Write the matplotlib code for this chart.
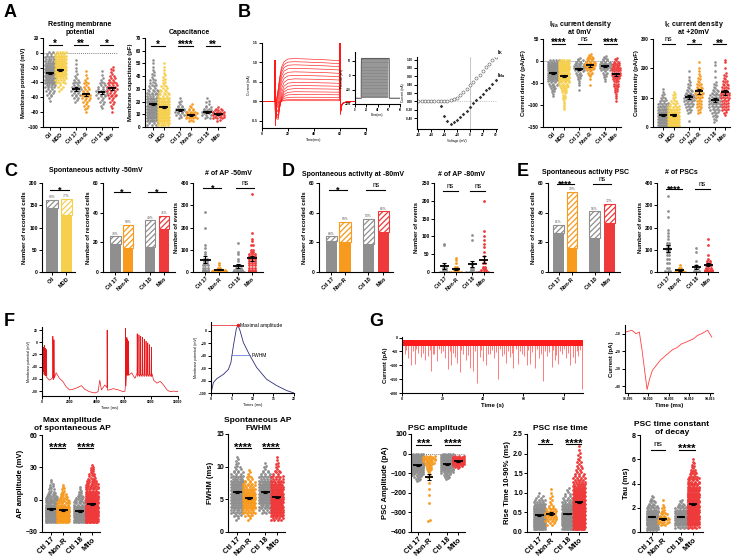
import numpy as np
import matplotlib
matplotlib.use("Agg")
import matplotlib.pyplot as plt

plt.rcParams['font.family'] = ['Liberation Sans', 'DejaVu Sans']
plt.rcParams['font.weight'] = 'bold'
plt.rcParams['axes.labelweight'] = 'bold'
plt.rcParams['mathtext.fontset'] = 'custom'
plt.rcParams['mathtext.rm'] = 'Liberation Sans:bold'
plt.rcParams['mathtext.it'] = 'Liberation Sans:bold'
plt.rcParams['mathtext.bf'] = 'Liberation Sans:bold'
plt.rcParams['hatch.linewidth'] = 0.9
plt.rcParams['axes.linewidth'] = 0.8

GRAY = '#8f8f8f'
YEL = '#f6cf4c'
ORA = '#f79a1e'
RED = '#ee3a3a'

# Data ---------------------------------------------------------------------------------------------
grp6 = ['Ctl', 'MDD', 'Ctl 17', 'Non-R', 'Ctl 18', 'Mito']
grp4 = ['Ctl 17', 'Non-R', 'Ctl 18', 'Mito']

# A: resting membrane potential (counts of cells per level)
rmp_lv = [0, -5, -10, -15, -20, -25, -30, -35, -40, -45, -50, -55, -60, -65, -70, -75, -80]
rmp_ctl = [4, 6, 9, 12, 16, 18, 17, 15, 12, 8, 5, 4, 2, 1, 0, 0, 0]
rmp_mdd = [8, 10, 12, 14, 16, 14, 12, 8, 5, 3, 2, 0, 0, 0, 0, 0, 0]
rmp_c17 = [0, 0, 1, 1, 1, 1, 2, 3, 4, 5, 6, 5, 3, 2, 0, 0, 0]
rmp_nonr = [0, 0, 0, 0, 0, 1, 1, 2, 3, 3, 4, 5, 5, 4, 3, 2, 1]
rmp_c18 = [0, 0, 0, 0, 0, 1, 1, 2, 3, 4, 6, 6, 4, 3, 2, 1, 0]
rmp_mito = [0, 0, 0, 0, 2, 2, 3, 4, 5, 6, 6, 5, 4, 3, 2, 1, 1]
rmp_mean = [-27, -23, -49, -56, -53, -48]
rmp_sem = [1.5, 1.5, 2.5, 2.5, 2, 2]

# A: capacitance
cap_lv = [2.5, 5, 7.5, 10, 12.5, 15, 17.5, 20, 22.5, 25, 27.5, 30, 32.5, 35, 37.5, 40, 42.5, 45, 47.5, 50, 52.5]
cap_ctl = [6, 10, 14, 16, 17, 16, 14, 12, 10, 8, 6, 5, 4, 3, 3, 2, 2, 1, 1, 1, 1]
cap_mdd = [10, 12, 14, 16, 16, 14, 12, 10, 8, 6, 5, 4, 3, 2, 2, 2, 1, 1, 1, 1, 0]
cap_c17 = [0, 0, 2, 5, 7, 5, 3, 2, 1, 0, 0, 0, 0, 0, 0, 0, 0, 0, 0, 0, 0]
cap_nonr = [0, 3, 7, 8, 5, 3, 2, 0, 0, 0, 0, 0, 0, 0, 0, 0, 0, 0, 0, 0, 0]
cap_c18 = [0, 0, 3, 6, 7, 4, 2, 2, 1, 0, 0, 0, 0, 0, 0, 0, 0, 0, 0, 0, 0]
cap_mito = [0, 2, 6, 9, 7, 3, 0, 0, 0, 0, 0, 0, 0, 0, 0, 0, 0, 0, 0, 0, 0]
cap_mean = [18, 16, 13, 9.5, 12, 10]
cap_sem = [0.8, 0.8, 0.8, 0.7, 0.7, 0.5]

# B: INa current density at 0 mV
ina_lv = [15, 10, 5, 0, -5, -10, -15, -20, -25, -30, -35, -40, -45, -50, -55, -60, -65, -70, -75, -80,
          -85, -90, -95, -100, -105, -110]
ina_ctl = [0, 0, 0, 8, 10, 12, 14, 15, 15, 13, 11, 9, 7, 5, 4, 3, 2, 2, 1, 1, 0, 0, 0, 0, 0, 0]
ina_mdd = [0, 0, 0, 10, 10, 11, 12, 12, 11, 10, 9, 8, 7, 6, 5, 4, 3, 3, 2, 2, 2, 1, 1, 1, 1, 1]
ina_c17 = [0, 0, 2, 4, 5, 6, 6, 5, 4, 3, 2, 2, 1, 1, 1, 0, 1, 0, 0, 0, 0, 0, 0, 0, 0, 0]
ina_nonr = [2, 3, 4, 5, 6, 6, 5, 4, 3, 2, 1, 1, 0, 0, 1, 0, 0, 0, 0, 0, 0, 0, 0, 0, 0, 0]
ina_c18 = [0, 2, 3, 5, 7, 8, 7, 5, 3, 2, 2, 1, 1, 0, 0, 0, 0, 0, 0, 0, 0, 0, 0, 0, 0, 0]
ina_mito = [0, 0, 2, 3, 4, 4, 5, 5, 5, 5, 4, 4, 3, 3, 3, 2, 2, 2, 1, 1, 1, 1, 0, 0, 0, 0]
ina_mean = [-27, -34, -18, -10, -12, -30]
ina_sem = [1.5, 2, 3, 3, 2, 3]

# B: IK current density at +20 mV
ik_lv = [0, 10, 20, 30, 40, 50, 60, 70, 80, 90, 100, 110, 120, 130, 140, 150, 160, 170, 180, 190,
         200, 210, 220, 230]
ik_ctl = [8, 12, 14, 15, 14, 12, 10, 8, 6, 4, 3, 2, 1, 1, 0, 0, 0, 0, 0, 0, 0, 0, 0, 0]
ik_mdd = [10, 13, 15, 15, 13, 10, 8, 6, 4, 3, 2, 2, 1, 0, 0, 0, 0, 0, 0, 0, 0, 0, 0, 0]
ik_c17 = [0, 0, 1, 0, 0, 2, 3, 4, 5, 6, 6, 5, 4, 3, 2, 2, 1, 1, 0, 1, 0, 0, 0, 0]
ik_nonr = [0, 0, 0, 0, 0, 2, 2, 3, 3, 3, 4, 4, 5, 4, 3, 3, 2, 2, 1, 1, 1, 0, 1, 0]
ik_c18 = [0, 0, 2, 2, 3, 4, 5, 6, 7, 7, 6, 5, 4, 3, 2, 2, 0, 1, 0, 1, 0, 1, 1, 0]
ik_mito = [0, 0, 0, 0, 1, 2, 4, 4, 4, 4, 5, 5, 5, 4, 4, 3, 3, 2, 2, 0, 1, 0, 1, 1]
ik_mean = [42, 40, 101, 122, 92, 118]
ik_sem = [3, 3, 7, 8, 6, 8]

# B: example voltage-clamp sweeps (time in ms)
b_t = [0, 9.8, 10.0, 10.3, 10.8, 11.5, 12.5, 13.5, 15, 17, 20, 25, 35, 50, 59.8, 60.0, 60.3, 61, 62, 64, 70, 80]
b_cap = [0, 0, 1.05, -0.62, -0.15, 0, 0, 0, 0, 0, 0, 0, 0, 0, 0, 1.6, -0.32, -0.12, -0.05, -0.02, 0, 0]
b_kshape = [0, 0, 0, 0, 0.03, 0.1, 0.3, 0.55, 0.8, 0.93, 0.99, 1.0, 0.99, 0.97, 0.95, 0, 0, 0, 0, 0, 0, 0]
b_nashape = [0, 0, 0, 0, 0.3, 0.85, 1.0, 0.7, 0.35, 0.12, 0.03, 0, 0, 0, 0, 0, 0, 0, 0, 0, 0, 0]
b_plateau = [1.10, 1.02, 0.94, 0.85, 0.76, 0.67, 0.58, 0.49, 0.41, 0.33, 0.25, 0.18, 0.11, 0.05, 0.02]
b_na = [0, 0, -0.03, -0.08, -0.15, -0.25, -0.38, -0.5, -0.58, -0.52, -0.42, -0.3, -0.18, -0.08, -0.02]
b_steps = [-70, -60, -50, -40, -30, -20, -10, 0, 10, 20, 30, 40, 50, 60]

# B: IV curve
iv_v = [-80, -75, -70, -65, -60, -55, -50, -45, -40, -35, -30, -25, -20, -15, -10, -5, 0, 5, 10, 15, 20,
        25, 30, 35, 40]
iv_ik = [0, 0, 0, 0, 0, 0, 0, 0, 0.01, 0.02, 0.03, 0.05, 0.09, 0.15, 0.22, 0.3, 0.38, 0.47, 0.56,
         0.64, 0.72, 0.81, 0.89, 0.98, 1.06]
ina_v = [-45, -40, -35, -30, -25, -20, -15, -10, -5, 0, 5, 10, 15, 20, 25, 30, 35, 40]
ina_iv = [-0.12, -0.34, -0.48, -0.55, -0.5, -0.44, -0.37, -0.3, -0.22, -0.13, -0.05, 0.03, 0.1, 0.18,
          0.26, 0.33, 0.41, 0.5]

# C: spontaneous activity at -50 mV (active / total cells)
c1_active = [143, 127]
c1_total = [162, 165]
c1_pct = ['89%', '77%']
c2_active = [19, 16, 17, 29]
c2_total = [24, 32, 35, 38]
c2_pct = ['79%', '50%', '49%', '76%']

ap50_lv = [350, 270, 200, 175, 150, 140, 130, 120, 110, 100, 90, 80, 70, 60, 50, 40, 30, 20, 10, 5, 0]
ap50_c17 = [0, 1, 1, 0, 0, 0, 0, 1, 1, 0, 1, 1, 0, 2, 2, 2, 3, 3, 3, 3, 3]
ap50_nonr = [0, 0, 0, 0, 0, 0, 0, 0, 0, 0, 0, 0, 0, 0, 0, 1, 1, 2, 5, 6, 6]
ap50_c18 = [0, 0, 0, 0, 0, 0, 1, 0, 0, 0, 1, 1, 0, 1, 1, 0, 2, 3, 4, 4, 5]
ap50_mito = [1, 0, 0, 1, 1, 1, 0, 2, 0, 2, 2, 3, 3, 3, 3, 3, 3, 3, 3, 3, 3]
ap50_mean = [55, 10, 28, 62]
ap50_sem = [15, 2.5, 9, 12]

# D: spontaneous activity at -80 mV
d1_active = [21, 20, 19, 27]
d1_total = [24, 34, 36, 41]
d1_pct = ['88%', '59%', '53%', '66%']
ap80_lv = [200, 115, 105, 100, 90, 80, 75, 70, 55, 45, 40, 35, 25, 20, 15, 10, 5, 0]
ap80_c17 = [0, 0, 0, 0, 0, 1, 1, 0, 0, 0, 0, 0, 0, 1, 0, 2, 2, 5]
ap80_nonr = [0, 0, 0, 0, 0, 0, 0, 0, 0, 0, 1, 1, 1, 0, 2, 2, 3, 5]
ap80_c18 = [0, 0, 1, 0, 1, 0, 0, 0, 0, 0, 0, 0, 1, 1, 0, 2, 2, 6]
ap80_mito = [1, 1, 0, 1, 1, 1, 0, 1, 1, 1, 0, 1, 2, 0, 2, 2, 3, 5]
ap80_mean = [17, 9, 22, 35]
ap80_sem = [8, 3, 8, 10]

# E: spontaneous PSC activity
e1_active = [26, 16, 23, 33]
e1_total = [32, 54, 41, 46]
e1_pct = ['81%', '30%', '56%', '72%']
psc_lv = [340, 275, 245, 190, 175, 160, 150, 130, 120, 110, 100, 90, 75, 60, 50, 40, 30, 20, 10, 5, 0]
psc_c17 = [1, 1, 1, 1, 1, 1, 1, 2, 2, 2, 2, 2, 2, 2, 0, 2, 0, 2, 0, 3, 0]
psc_nonr = [0, 0, 0, 0, 0, 0, 0, 0, 0, 0, 0, 0, 0, 0, 0, 0, 1, 2, 3, 4, 5]
psc_c18 = [0, 0, 0, 0, 0, 0, 0, 0, 0, 1, 0, 1, 0, 0, 1, 0, 1, 2, 0, 3, 3]
psc_mito = [0, 0, 0, 0, 0, 0, 1, 0, 1, 0, 0, 0, 1, 1, 2, 2, 3, 3, 4, 4, 4]
psc_mean = [105, 8, 22, 32]
psc_sem = [15, 2, 8, 7]

# F: spontaneous AP trace (ms, mV)
f_base_t = [0, 100, 300, 420, 540, 700, 1040, 1280, 1530, 1780, 2030, 2270, 2640, 2890, 3140, 3500,
            3880, 4120, 4250, 4370, 4620, 4940, 5240, 5610, 5980, 6100, 6220, 6600, 6720, 6840, 6960,
            8100, 8200, 8450, 8690, 8940, 9190, 9430, 9680, 10000]
f_base_v = [-45, -48, -52, -59, -62, -60, -50, -59, -64, -73, -78, -77, -74, -71, -77, -81,
            -83, -81, -62, -78, -70, -78, -76, -78, -81, -80, -50, -50, -55, -59, -52,
            -52, -62, -67, -64, -70, -78, -81, -80, -81]
f_spk_t = [120, 190, 250, 330, 800, 880, 4790, 6150, 6240, 6300, 6360, 7000, 7130, 7260, 7390, 7520,
           7650, 7780, 7910, 8040]
f_spk_v = [-8, -5, -10, -12, 10, 4, 20, 23, 8, 5, 2, 14, 12, 10, 8, 5, 2, -1, -4, -8]

# F: single AP waveform
ap_t = [0, 0.6, 1.4, 3, 4.2, 4.8, 5.4, 6.1, 6.5, 7, 7.8, 9.3, 11, 13.4, 15.8, 18.2, 20]
ap_v = [-100, -83, -77, -70, -62, -51, -24, 3, 9, 0, -19, -39, -59, -78, -88, -96, -100]

# F: AP amplitude and FWHM
amp_lv = [-20, -18, -16, -14, -12, -10, -8, -6, -4, -2, 0, 2, 4, 6, 8, 10, 12, 14, 16, 18, 20, 22, 24,
          26, 28, 30, 32]
amp_c17 = [14, 16, 18, 18, 18, 17, 15, 13, 11, 9, 8, 6, 5, 4, 3, 3, 2, 2, 1, 1, 0, 0, 0, 0, 0, 0, 0]
amp_nonr = [14, 16, 16, 15, 14, 13, 11, 9, 8, 6, 5, 4, 3, 3, 2, 2, 1, 1, 0, 0, 0, 0, 0, 0, 0, 0, 0]
amp_c18 = [14, 16, 17, 16, 15, 13, 11, 9, 7, 6, 5, 4, 3, 2, 2, 1, 1, 0, 0, 0, 0, 0, 0, 0, 0, 0, 0]
amp_mito = [18, 20, 20, 20, 20, 19, 18, 17, 16, 15, 14, 12, 11, 10, 9, 8, 7, 6, 5, 5, 4, 3, 3, 2, 2, 2, 1]
amp_mean = [-8.5, -10, -10.5, -4]
amp_sem = [0.8, 0.9, 0.8, 0.6]

fw_lv = [2, 2.5, 3, 3.5, 4, 4.5, 5, 5.5, 6, 6.5, 7, 7.5, 8, 8.5, 9, 9.5, 10, 10.5, 11, 11.5]
fw_c17 = [2, 4, 7, 10, 13, 16, 19, 20, 20, 19, 17, 14, 11, 8, 6, 4, 3, 2, 2, 1]
fw_nonr = [2, 4, 7, 10, 13, 15, 16, 15, 13, 10, 8, 6, 4, 3, 2, 1, 0, 0, 0, 0]
fw_c18 = [0, 0, 4, 7, 10, 13, 16, 18, 18, 17, 15, 12, 9, 7, 5, 3, 2, 1, 0, 0]
fw_mito = [8, 12, 16, 19, 21, 22, 22, 21, 19, 16, 13, 10, 8, 6, 4, 3, 2, 2, 1, 1]
fw_mean = [6.1, 5.2, 6.1, 5.3]
fw_sem = [0.15, 0.15, 0.15, 0.12]

# G: PSC recording (s, pA)
g_ev_t = [1.5, 3.0, 4.6, 6.3, 8.0, 9.5, 11.2, 12.8, 14.5, 16.0, 17.5, 19.2, 21.0, 22.8, 24.4, 26.0,
          27.2, 28.5, 30.0, 31.5, 33.5, 35.0, 37.0, 38.5, 40.0, 41.7, 43.5, 45.5, 47.5, 49.5, 51.6,
          53.2, 55.0, 57.4, 59.5, 61.5, 63.2, 65.7, 67.5, 69.8, 71.5, 73.9, 75.5, 77.2, 79.0, 81.0,
          83.0, 84.5, 85.5, 87.0, 89.0,
          2.2, 5.4, 7.1, 10.3, 13.6, 15.2, 18.4, 20.1, 23.6, 25.3, 29.3, 32.6, 36.1, 39.2, 42.6,
          44.6, 46.4, 48.6, 50.5, 52.4, 54.1, 56.2, 58.5, 60.4, 62.4, 64.4, 66.6, 68.6, 70.6, 72.7,
          74.7, 76.3, 78.1, 80.0, 82.0, 86.2, 88.0]
g_ev_a = [-60, -75, -100, -95, -55, -70, -80, -65, -120, -60, -85, -55, -75, -115, -100, -70,
          -90, -125, -60, -80, -110, -120, -165, -70, -85, -100, -60, -75, -150, -65, -90,
          -70, -110, -95, -60, -100, -95, -110, -75, -155, -65, -105, -80, -95, -60, -75,
          -100, -70, -90, -65, -185,
          -45, -50, -40, -55, -45, -60, -42, -50, -48, -55, -45, -62, -50, -44, -58,
          -46, -52, -40, -60, -48, -55, -42, -50, -66, -45, -52, -40, -58, -47, -53,
          -44, -62, -48, -41, -56, -50, -45]
psc_t = [93.9945, 93.996, 93.997, 93.9978, 93.9985, 93.9992, 93.9997, 94.0003, 94.001, 94.002,
         94.003, 94.004, 94.005, 94.006, 94.007, 94.008, 94.009, 94.010, 94.011, 94.012, 94.013,
         94.0145, 94.0155]
psc_v = [-9, -8, -10, -9, -20, -33, -42, -36, -31, -28, -25, -23, -21, -19, -18, -16, -15, -14, -13,
         -11, -10, -8, -12]

# G: PSC amplitude, rise time and decay
gamp_lv = [-5, -15, -25, -35, -45, -55, -65, -75, -85, -95, -105, -115, -125, -135, -150, -180, -210,
           -250, -340]
gamp_c17 = [10, 14, 16, 18, 18, 17, 15, 12, 10, 8, 6, 4, 3, 2, 0, 0, 0, 0, 0]
gamp_nonr = [0, 6, 7, 6, 5, 4, 3, 3, 2, 1, 1, 2, 0, 0, 1, 1, 1, 1, 2]
gamp_c18 = [10, 14, 16, 17, 17, 16, 14, 11, 8, 6, 4, 3, 2, 0, 0, 0, 0, 0, 0]
gamp_mito = [0, 6, 14, 16, 14, 8, 4, 1, 0, 0, 0, 0, 0, 0, 0, 0, 0, 0, 0]
gamp_mean = [-60, -120, -55, -40]
gamp_sem = [2, 15, 2, 1]

rise_lv = [0.1, 0.2, 0.3, 0.4, 0.5, 0.6, 0.7, 0.8, 0.9, 1.0, 1.1, 1.2, 1.3, 1.4, 1.5, 1.6, 1.7, 1.8,
           1.9, 2.0, 2.1, 2.2]
rise_c17 = [20, 34, 36, 32, 26, 18, 12, 8, 4, 1, 0, 0, 0, 0, 0, 0, 0, 0, 0, 0, 0, 0]
rise_nonr = [0, 4, 8, 9, 8, 5, 3, 2, 2, 1, 1, 0, 0, 0, 0, 0, 0, 0, 0, 0, 0, 0]
rise_c18 = [16, 30, 34, 30, 24, 18, 12, 8, 5, 3, 2, 0, 0, 0, 0, 0, 0, 0, 0, 0, 0, 0]
rise_mito = [20, 36, 44, 48, 44, 40, 36, 30, 26, 22, 16, 12, 9, 7, 5, 4, 3, 3, 2, 2, 1, 1]
rise_mean = [0.43, 0.47, 0.46, 0.76]
rise_sem = [0.01, 0.04, 0.01, 0.01]

tau_lv = [0.2, 0.4, 0.6, 0.8, 1.0, 1.2, 1.4, 1.6, 1.8, 2.0, 2.2, 2.4, 2.6, 2.8, 3.0, 3.2, 3.4, 3.6,
          3.8, 4.0, 4.2, 4.4, 4.6, 4.8, 5.0, 5.2, 5.4, 5.6, 5.8, 6.0]
tau_c17 = [8, 12, 16, 18, 18, 17, 15, 12, 9, 7, 5, 4, 3, 2, 1, 0, 0, 0, 0, 0, 0, 0, 0, 0, 0, 0, 0, 0, 0, 0]
tau_nonr = [0, 0, 3, 6, 6, 5, 4, 3, 2, 2, 1, 0, 1, 0, 0, 0, 0, 0, 0, 0, 0, 0, 0, 0, 0, 0, 0, 0, 0, 0]
tau_c18 = [0, 6, 10, 14, 16, 16, 14, 11, 8, 6, 4, 3, 2, 0, 0, 0, 0, 0, 0, 0, 0, 0, 0, 0, 0, 0, 0, 0, 0, 0]
tau_mito = [0, 6, 10, 14, 16, 18, 19, 20, 20, 20, 19, 18, 17, 16, 14, 13, 12, 10, 9, 8, 7, 6, 5, 4, 3,
            3, 2, 2, 1, 1]
tau_mean = [1.25, 1.1, 1.25, 2.3]
tau_sem = [0.03, 0.08, 0.03, 0.04]


# Helpers ------------------------------------------------------------------------------------------
W, H = 736, 556
fig = plt.figure(figsize=(W / 100, H / 100), dpi=100)


def axpx(l, t, r, b):
    return fig.add_axes([l / W, 1 - b / H, (r - l) / W, (b - t) / H])


def ftext(x, y, s, **kw):
    fig.text(x / W, 1 - y / H, s, **kw)


def style(ax, fs):
    ax.spines['top'].set_visible(False)
    ax.spines['right'].set_visible(False)
    ax.tick_params(labelsize=fs, width=0.7, length=2, pad=1)


def swarm(ax, x, lv, cnt, color, step, sp=0.2, hw=0.5, s=3.5):
    xs, ys = [], []
    for v, n in zip(lv, cnt):
        if n <= 0:
            continue
        w = min((n - 1) * sp, 2 * hw)
        off = np.linspace(-w / 2, w / 2, n)
        for i, o in enumerate(off):
            xs.append(x + o)
            ys.append(v + (step * 0.25 * (1 if i % 2 else -1) if n > 1 else 0))
    ax.scatter(xs, ys, s=s, color=color, lw=0, zorder=2)


def mean_bar(ax, x, m, e, w=0.38, lw=1.3):
    ax.errorbar([x], [m], yerr=[e], fmt='none', ecolor='k', elinewidth=0.8, capsize=1.5,
                capthick=0.8, zorder=4)
    ax.plot([x - w, x + w], [m, m], color='k', lw=lw, zorder=4, solid_capstyle='butt')


def sig(ax, x1, x2, y, text, fs):
    ax.plot([x1 - 0.15, x2 + 0.15], [y, y], color='k', lw=0.8, clip_on=False)
    if text == 'ns':
        ax.annotate(text, ((x1 + x2) / 2, y), xytext=(0, 0.8), textcoords='offset points',
                    ha='center', va='bottom', fontsize=fs * 0.75, fontweight='normal',
                    annotation_clip=False)
    else:
        ax.annotate(text, ((x1 + x2) / 2, y), xytext=(0, -1.8), textcoords='offset points',
                    ha='center', va='baseline', fontsize=fs, annotation_clip=False)


def dot_panel(box, xs, xlim, lv, groups, cols, means, sems, ylim, yticks, ylabel, labels, sigs,
              fs_tick, fs_lab, fs_sig, step, s=3.5, zero=False, yfmt=None):
    ax = axpx(*box)
    style(ax, fs_tick)
    if zero:
        ax.axhline(0, color='#555555', lw=0.6, ls=(0, (1, 1.5)), zorder=1)
    for x, g, c in zip(xs, groups, cols):
        swarm(ax, x, lv, g, c, step, s=s)
    for x, m, e in zip(xs, means, sems):
        mean_bar(ax, x, m, e)
    ax.set_xlim(*xlim)
    ax.set_ylim(*ylim)
    ax.set_yticks(yticks)
    if yfmt:
        ax.set_yticklabels(yfmt)
    ax.set_xticks(xs)
    ax.set_xticklabels(labels, rotation=45, ha='right', rotation_mode='anchor', fontsize=fs_tick + 0.4)
    ax.set_ylabel(ylabel, fontsize=fs_lab, labelpad=1.5)
    for x1, x2, y, t in sigs:
        sig(ax, x1, x2, y, t, fs_sig)
    return ax


def bar_panel(box, xs, xlim, active, total, pct, cols, ylim, yticks, labels, sigs):
    ax = axpx(*box)
    style(ax, 3.6)
    for x, a, t, p, c in zip(xs, active, total, pct, cols):
        ax.bar(x, a, 0.82, color=c, lw=0)
        ax.bar(x, t - a, 0.82, bottom=a, facecolor='white', edgecolor=c, hatch='//////', lw=0.8)
        ax.text(x, t + ylim[1] * 0.005, p, ha='center', va='bottom', fontsize=2.4,
                fontweight='normal', color='#555555')
    ax.set_xlim(*xlim)
    ax.set_ylim(*ylim)
    ax.set_yticks(yticks)
    ax.set_xticks(xs)
    ax.set_xticklabels(labels, rotation=45, ha='right', rotation_mode='anchor', fontsize=4)
    ax.set_ylabel('Number of recorded cells', fontsize=4.3, labelpad=1.5)
    for x1, x2, y, t in sigs:
        sig(ax, x1, x2, y, t, 6.5)
    return ax


x6 = [0, 1, 2.5, 3.5, 5, 6]
c6 = [GRAY, YEL, GRAY, ORA, GRAY, RED]
c4 = [GRAY, ORA, GRAY, RED]

# Panel letters ----------------------------------------------------------------------------------------
for lx, ly, lt in [(4, 4, 'A'), (238, 4, 'B'), (4, 163, 'C'), (282, 163, 'D'), (517, 163, 'E'),
                   (4, 313, 'F'), (369, 313, 'G')]:
    ftext(lx, ly, lt, fontsize=13, fontweight='bold', va='top', ha='left')

# A ------------------------------------------------------------------------------------------------
dot_panel((43, 38, 118, 127), x6, (-0.7, 6.6), rmp_lv,
          [rmp_ctl, rmp_mdd, rmp_c17, rmp_nonr, rmp_c18, rmp_mito], c6, rmp_mean, rmp_sem,
          (-100, 20), [-100, -80, -60, -40, -20, 0, 20], 'Membrane potential (mV)', grp6,
          [(0, 1, 11, '*'), (2.5, 3.5, 11, '**'), (5, 6, 11, '*')], 3.4, 4.2, 7, 5, zero=True)
ftext(80, 25, 'Resting membrane', fontsize=5, ha='center', va='center')
ftext(80, 33, 'potential', fontsize=5, ha='center', va='center')

dot_panel((145, 38, 225, 127), x6, (-0.7, 6.6), cap_lv,
          [cap_ctl, cap_mdd, cap_c17, cap_nonr, cap_c18, cap_mito], c6, cap_mean, cap_sem,
          (0, 70), [0, 10, 20, 30, 40, 50, 60, 70], 'Membrane capacitance (pF)', grp6,
          [(0, 1, 64, '*'), (2.5, 3.5, 64, '****'), (5, 6, 64, '**')], 3.4, 4.2, 7, 2.5)
ftext(189, 33, 'Capacitance', fontsize=5, ha='center', va='center')

# B: current traces --------------------------------------------------------------------------------
axb = axpx(262, 43, 366, 128)
style(axb, 2.4)
for pl, na in zip(b_plateau, b_na):
    tr = np.array(b_cap) + pl * np.array(b_kshape) + na * np.array(b_nashape)
    axb.plot(b_t, tr, color='#ff1a1a', lw=0.45)
axb.set_xlim(0, 80)
axb.set_ylim(-0.68, 1.5)
axb.set_xticks([0, 20, 40, 60, 80])
axb.set_yticks([-0.5, 0.0, 0.5, 1.0, 1.5])
axb.set_yticklabels(['-0.5', '0.0', '0.5', '1.0', '1.5'])
axb.set_xlabel('Time(ms)', fontsize=2.6, fontweight='normal', labelpad=1)
axb.set_ylabel('Current (nA)', fontsize=2.6, fontweight='normal', labelpad=1)

axi = axpx(355, 52, 400, 104)
style(axi, 2.0)
axi.fill_between([10, 60], -80, max(b_steps), color='#8a8a8a', lw=0)
for v in b_steps:
    axi.plot([0, 10, 10, 60, 60, 80], [-80, -80, v, v, -80, -80], color='#d0d0d0', lw=0.3)
axi.plot([0, 10, 10, 60, 60, 80], [-80, -80, max(b_steps), max(b_steps), -80, -80], color='#333333', lw=0.4)
axi.set_xlim(0, 80)
axi.set_ylim(-100, 80)
axi.set_xticks([0, 20, 40, 60, 80])
axi.set_yticks([-100, -50, 0, 50])
axi.set_xlabel('Time(ms)', fontsize=2.2, fontweight='normal', labelpad=0.5)
axi.set_ylabel('Potential (mV)', fontsize=2.2, fontweight='normal', labelpad=0.5)

# B: IV curve
axv = axpx(417, 57, 497, 129)
style(axv, 2.2)
axv.axvline(0, color='#999999', lw=0.4)
axv.axhline(0, color='#999999', lw=0.4, ls=(0, (2, 2)))
axv.plot(iv_v, iv_ik, 'o', ms=2.2, mfc='white', mec='#555555', mew=0.4)
axv.plot(ina_v, ina_iv, 'D', ms=1.8, color='#333333', mew=0)
axv.set_xlim(-82, 42)
axv.set_ylim(-0.66, 1.06)
axv.set_xticks([-80, -60, -40, -20, 0, 20, 40])
axv.set_yticks([-0.4, -0.2, 0.0, 0.2, 0.4, 0.6, 0.8, 1.0])
axv.set_yticklabels(['-0.40', '-0.20', '0.00', '0.20', '0.40', '0.60', '0.80', '1.00'])
axv.set_xlabel('Voltage (mV)', fontsize=2.4, fontweight='normal', labelpad=1)
axv.set_ylabel('Current (nA)', fontsize=2.4, fontweight='normal', labelpad=1)
axv.text(iv_v[-1] + 2, iv_ik[-1], r'$I_K$', fontsize=4, va='bottom')
axv.text(ina_v[-1] + 2, ina_iv[-1], r'$I_{Na}$', fontsize=4, va='bottom')

dot_panel((543, 39, 621, 127), x6, (-1, 6.5), ina_lv,
          [ina_ctl, ina_mdd, ina_c17, ina_nonr, ina_c18, ina_mito], c6, ina_mean, ina_sem,
          (-150, 50), [-150, -100, -50, 0, 50], 'Current density (pA/pF)', grp6,
          [(0, 1, 39, '****'), (2.5, 3.5, 39, 'ns'), (5, 6, 39, '****')], 3.4, 4.2, 7, 5, zero=True)
ftext(580, 24, r'$I_{Na}$ current density', fontsize=5, ha='center', va='center')
ftext(580, 33, 'at 0mV', fontsize=5, ha='center', va='center')

dot_panel((653, 39, 730, 127), x6, (-1, 6.5), ik_lv,
          [ik_ctl, ik_mdd, ik_c17, ik_nonr, ik_c18, ik_mito], c6, ik_mean, ik_sem,
          (0, 300), [0, 100, 200, 300], 'Current density (pA/pF)', grp6,
          [(0, 1, 282, 'ns'), (2.5, 3.5, 282, '*'), (5, 6, 282, '**')], 3.4, 4.2, 7, 10)
ftext(694, 24, r'$I_K$ current density', fontsize=5, ha='center', va='center')
ftext(694, 33, 'at +20mV', fontsize=5, ha='center', va='center')

# C ------------------------------------------------------------------------------------------------
bar_panel((42, 183, 75, 272), [0, 1], (-0.7, 1.6), c1_active, c1_total, c1_pct, [GRAY, YEL],
          (0, 200), [0, 50, 100, 150, 200], ['Ctl', 'MDD'], [(0, 1, 184, '*')])
bar_panel((103, 183, 175, 272), [0, 1, 2.8, 3.9], (-1, 4.8), c2_active, c2_total, c2_pct, c4,
          (0, 60), [0, 20, 40, 60], grp4, [(0, 1, 54, '*'), (2.8, 3.9, 54, '*')])
ftext(96, 171, 'Spontaneous activity -50mV', fontsize=5, ha='center', va='center')
dot_panel((193, 183, 263, 272), [0, 1, 2.4, 3.4], (-0.9, 4.2), ap50_lv,
          [ap50_c17, ap50_nonr, ap50_c18, ap50_mito], c4, ap50_mean, ap50_sem,
          (0, 400), [0, 100, 200, 300, 400], 'Number of events', grp4,
          [(0, 1, 376, '*'), (2.4, 3.4, 376, 'ns')], 3.5, 4.3, 6.5, 0, s=4)
ftext(228, 173, '# of AP -50mV', fontsize=5, ha='center', va='center')

# D ------------------------------------------------------------------------------------------------
bar_panel((319, 183, 393, 272), [0, 1, 2.7, 3.8], (-0.9, 4.5), d1_active, d1_total, d1_pct, c4,
          (0, 60), [0, 20, 40, 60], grp4, [(0, 1, 55, '*'), (2.7, 3.8, 55, 'ns')])
ftext(353, 175, 'Spontaneous activity at -80mV', fontsize=5, ha='center', va='center')
dot_panel((434, 183, 493, 272), [0, 1, 2.4, 3.4], (-0.9, 4.2), ap80_lv,
          [ap80_c17, ap80_nonr, ap80_c18, ap80_mito], c4, ap80_mean, ap80_sem,
          (0, 250), [0, 50, 100, 150, 200, 250], 'Number of events', grp4,
          [(0, 1, 228, 'ns'), (2.4, 3.4, 228, 'ns')], 3.5, 4.3, 6.5, 0, s=4)
ftext(461, 175, '# of AP -80mV', fontsize=5, ha='center', va='center')

# E ------------------------------------------------------------------------------------------------
bar_panel((548, 183, 620, 272), [0, 1, 2.7, 3.8], (-0.8, 4.6), e1_active, e1_total, e1_pct, c4,
          (0, 60), [0, 20, 40, 60], grp4, [(0, 1, 59.5, '****'), (2.7, 3.8, 59.5, 'ns')])
ftext(585, 172, 'Spontaneous activity PSC', fontsize=5, ha='center', va='center')
dot_panel((657, 183, 718, 272), [0, 1, 2.4, 3.4], (-0.9, 4.2), psc_lv,
          [psc_c17, psc_nonr, psc_c18, psc_mito], c4, psc_mean, psc_sem,
          (0, 400), [0, 100, 200, 300, 400], 'Number of events', grp4,
          [(0, 1, 373, '****'), (2.4, 3.4, 373, 'ns')], 3.5, 4.3, 6.5, 0, s=4)
ftext(681, 172, '# of PSCs', fontsize=5, ha='center', va='center')

# F: traces ------------------------------------------------------------------------------------------
ft = list(f_base_t)
fv = list(f_base_v)
for ts, pk in zip(f_spk_t, f_spk_v):
    vb = np.interp(ts, f_base_t, f_base_v)
    ft += [ts - 12, ts, ts + 22]
    fv += [vb, pk, vb - 4]
order = np.argsort(ft)
axf = axpx(42, 327, 178, 396)
style(axf, 2.4)
axf.plot(np.array(ft)[order], np.array(fv)[order], color='#e8161b', lw=0.5)
axf.set_xlim(0, 10000)
axf.set_ylim(-88, 25)
axf.set_xticks([0, 2000, 4000, 6000, 8000, 10000])
axf.set_yticks([-80, -60, -40, -20, 0, 20])
axf.set_xlabel('Time (ms)', fontsize=2.8, fontweight='normal', labelpad=1)
axf.set_ylabel('Membrane potential (mV)', fontsize=2.6, fontweight='normal', labelpad=1)

axa = axpx(211, 322, 294, 393)
style(axa, 2.4)
axa.plot(ap_t, ap_v, color='#2d2d7a', lw=0.6)
axa.plot([0, ap_t[8]], [ap_v[8], ap_v[8]], color='#e8161b', lw=0.5)
axa.plot([ap_t[5], ap_t[11]], [ap_v[11], ap_v[11]], color='#4f6bd8', lw=0.5)
axa.plot(ap_t[8], ap_v[8], 'o', ms=1.5, color='#e8161b')
axa.text(ap_t[8] + 0.6, ap_v[8], 'Maximal amplitude', fontsize=3.6, fontweight='normal', va='center')
axa.text(ap_t[11] + 0.6, ap_v[11], 'FWHM', fontsize=3.6, fontweight='normal', va='center')
axa.set_xlim(0, 20)
axa.set_ylim(-100, 14)
axa.set_xticks([0, 5, 10, 15, 20])
axa.set_yticks([-100, -80, -60, -40, -20, 0])
axa.set_xlabel('Times (ms)', fontsize=2.8, fontweight='normal', labelpad=1)
axa.set_ylabel('Membrane potential (mV)', fontsize=2.6, fontweight='normal', labelpad=1)

# F: summary
dot_panel((42, 435, 100, 532), [0, 1, 2.4, 3.4], (-0.8, 4.1), amp_lv,
          [amp_c17, amp_nonr, amp_c18, amp_mito], c4, amp_mean, amp_sem,
          (-30, 60), [-30, 0, 30, 60], 'AP amplitude (mV)', grp4,
          [(0, 1, 48, '****'), (2.4, 3.4, 48, '****')], 5, 5.5, 8, 2, s=4)
ftext(72, 420, 'Max amplitude', fontsize=6, ha='center', va='center')
ftext(72, 429, 'of spontaneous AP', fontsize=6, ha='center', va='center')

dot_panel((228, 434, 285, 532), [0, 1, 2.4, 3.4], (-0.8, 4.1), fw_lv,
          [fw_c17, fw_nonr, fw_c18, fw_mito], c4, fw_mean, fw_sem,
          (0, 15), [0, 5, 10, 15], 'FWHM (ms)', grp4,
          [(0, 1, 12.8, '****'), (2.4, 3.4, 12.8, '****')], 5, 5.5, 8, 0.5, s=4)
ftext(258, 420, 'Spontaneous AP', fontsize=6, ha='center', va='center')
ftext(258, 429, 'FWHM', fontsize=6, ha='center', va='center')

# G: traces ------------------------------------------------------------------------------------------
axg = axpx(402, 337, 583, 393)
style(axg, 2.6)
axg.fill_between([0, 89.4], -31, -10, color='#ff1a1a', lw=0)
axg.vlines(g_ev_t, -25, g_ev_a, color='#ff1a1a', lw=0.4)
axg.set_xlim(0, 89.4)
axg.set_ylim(-200, 2)
axg.set_xticks([0, 20, 40, 60, 80])
axg.set_yticks([-200, -150, -100, -50, 0])
axg.set_xlabel('Time (s)', fontsize=4.3, labelpad=1)
axg.set_ylabel('Current (pA)', fontsize=4.3, labelpad=1)

axp = axpx(625, 325, 713, 393)
style(axp, 2.4)
axp.plot(psc_t, psc_v, color='#ff4040', lw=0.6)
axp.set_xlim(93.9943, 94.0158)
axp.set_ylim(-44, -5)
axp.set_xticks([93.995, 94.000, 94.005, 94.010, 94.015])
axp.set_xticklabels(['93.995', '94.000', '94.005', '94.010', '94.015'])
axp.set_yticks([-40, -30, -20, -10])
axp.set_xlabel('Time (ms)', fontsize=4.3, labelpad=1)
axp.set_ylabel('Current (pA)', fontsize=4.3, labelpad=1)

# G: summary
dot_panel((411, 434, 465, 532), [0, 1, 2.6, 3.6], (-0.6, 4.2), gamp_lv,
          [gamp_c17, gamp_nonr, gamp_c18, gamp_mito], c4, gamp_mean, gamp_sem,
          (-400, 100), [-400, -300, -200, -100, 0, 100], 'PSC Amplitude (pA)', grp4,
          [(0, 1, 45, '***'), (2.6, 3.6, 45, '****')], 5, 5.5, 8, 10, s=4, zero=True)
ftext(438, 429, 'PSC amplitude', fontsize=6, ha='center', va='center')

dot_panel((527, 434, 587, 532), [0, 1, 2.5, 3.5], (-1.1, 4.2), rise_lv,
          [rise_c17, rise_nonr, rise_c18, rise_mito], c4, rise_mean, rise_sem,
          (0, 2.5), [0, 0.5, 1.0, 1.5, 2.0, 2.5], 'Rise Time 10-90% (ms)', grp4,
          [(0, 1, 2.24, '**'), (2.5, 3.5, 2.24, '****')], 5, 5.5, 8, 0.1, s=4,
          yfmt=['0.0', '0.5', '1.0', '1.5', '2.0', '2.5'])
ftext(560, 429, 'PSC rise time', fontsize=6, ha='center', va='center')

dot_panel((640, 435, 703, 532), [0, 1, 2.6, 3.7], (-1.1, 4.6), tau_lv,
          [tau_c17, tau_nonr, tau_c18, tau_mito], c4, tau_mean, tau_sem,
          (0, 8), [0, 2, 4, 6, 8], 'Tau (ms)', grp4,
          [(0, 1, 6.8, 'ns'), (2.6, 3.7, 6.8, '****')], 5, 5.5, 8, 0.2, s=4)
ftext(672, 424, 'PSC time constant', fontsize=6, ha='center', va='center')
ftext(672, 433, 'of decay', fontsize=6, ha='center', va='center')

fig.savefig('out.png', dpi=100)
